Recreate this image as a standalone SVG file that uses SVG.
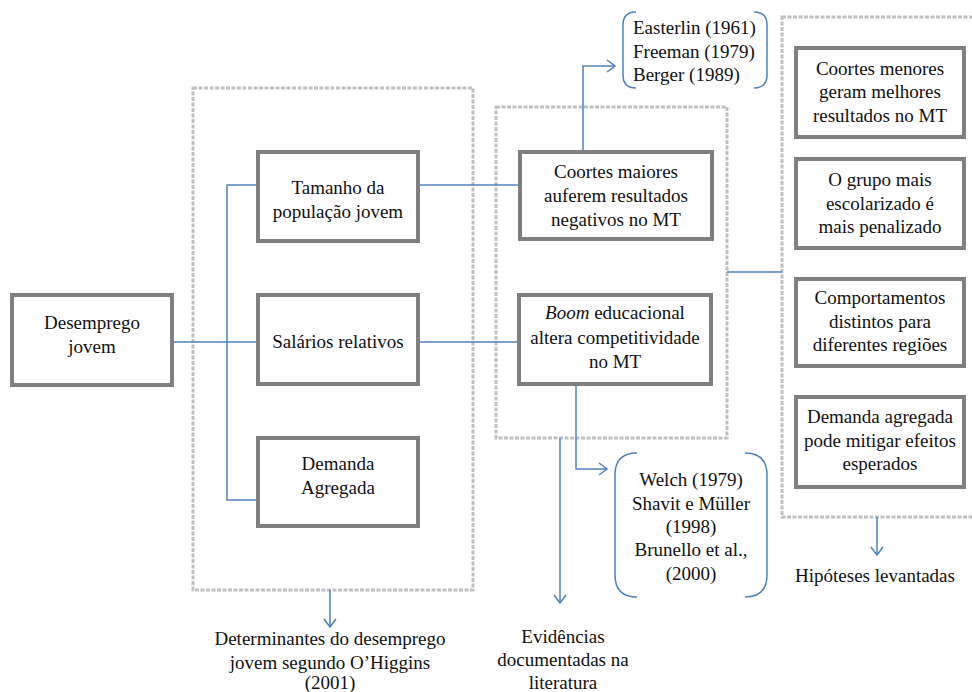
<svg xmlns="http://www.w3.org/2000/svg" width="972" height="692" viewBox="0 0 972 692">
<defs>
<style>
.t{font-family:"Liberation Serif",serif !important;font-size:19px;fill:#111;text-anchor:middle}
.s{text-anchor:start}
.box{fill:#fff;stroke:#7f7f7f;stroke-width:4}
.dot{fill:none;stroke:#c0c0c0;stroke-width:3;stroke-dasharray:4 1.5}
.c{fill:none;stroke:#4f81bd;stroke-width:1.5}
.br{fill:none;stroke:#4f81bd;stroke-width:1.5}
</style>
<marker id="ar" markerWidth="12" markerHeight="14" refX="9" refY="7" orient="auto" markerUnits="userSpaceOnUse">
<path d="M1,1 L9,7 L1,13" fill="none" stroke="#4f81bd" stroke-width="1.5"/>
</marker>
</defs>
<rect width="972" height="692" fill="#fff"/>

<g id="groups">
<rect id="grp-determinantes" class="dot" x="193" y="88" width="280" height="502"/>
<rect id="grp-evidencias" class="dot" x="496" y="107" width="231" height="331"/>
<rect id="grp-hipoteses" class="dot" x="782" y="17" width="200" height="500"/>
</g>

<g id="connectors">
<path class="c" d="M172,342 H258"/>
<path class="c" d="M258,185 H227 V500 H258"/>
<path class="c" d="M418,185 H520"/>
<path class="c" d="M418,342 H519"/>
<path class="c" d="M583,152 V66 H615" marker-end="url(#ar)"/>
<path class="c" d="M576,384 V469 H607" marker-end="url(#ar)"/>
<path class="c" d="M560,438 V603" marker-end="url(#ar)"/>
<path class="c" d="M727,272 H782"/>
<path class="c" d="M330,590 V627" marker-end="url(#ar)"/>
<path class="c" d="M877,517 V555" marker-end="url(#ar)"/>
</g>

<g id="n-desemprego">
<rect class="box" x="12" y="295" width="160" height="90"/>
<text class="t" style="font-family:'Liberation Serif',serif" x="92" y="329">Desemprego</text>
<text class="t" style="font-family:'Liberation Serif',serif" x="92" y="353">jovem</text>
</g>

<g id="n-tamanho">
<rect class="box" x="258" y="152" width="160" height="89"/>
<text class="t" style="font-family:'Liberation Serif',serif" x="338" y="194">Tamanho da</text>
<text class="t" style="font-family:'Liberation Serif',serif" x="338" y="218">população jovem</text>
</g>

<g id="n-salarios">
<rect class="box" x="258" y="295" width="160" height="89"/>
<text class="t" style="font-family:'Liberation Serif',serif" x="338" y="348">Salários relativos</text>
</g>

<g id="n-demanda">
<rect class="box" x="258" y="438" width="160" height="88"/>
<text class="t" style="font-family:'Liberation Serif',serif" x="338" y="470">Demanda</text>
<text class="t" style="font-family:'Liberation Serif',serif" x="338" y="494">Agregada</text>
</g>

<g id="n-coortes-maiores">
<rect class="box" x="520" y="152" width="192" height="87"/>
<text class="t" style="font-family:'Liberation Serif',serif" x="616" y="178">Coortes maiores</text>
<text class="t" style="font-family:'Liberation Serif',serif" x="616" y="202">auferem resultados</text>
<text class="t" style="font-family:'Liberation Serif',serif" x="616" y="226">negativos no MT</text>
</g>

<g id="n-boom">
<rect class="box" x="519" y="295" width="192" height="89"/>
<text class="t" style="font-family:'Liberation Serif',serif" x="615" y="319"><tspan font-style="italic">Boom</tspan> educacional</text>
<text class="t" style="font-family:'Liberation Serif',serif" x="615" y="344">altera competitividade</text>
<text class="t" style="font-family:'Liberation Serif',serif" x="615" y="368">no MT</text>
</g>

<g id="n-refs1">
<path class="br" d="M636,12 Q623,12 623,25 V75 Q623,88 636,88"/>
<path class="br" d="M754,12 Q767,12 767,25 V75 Q767,88 754,88"/>
<text class="t s" style="font-family:'Liberation Serif',serif;text-anchor:start" x="633" y="34">Easterlin (1961)</text>
<text class="t s" style="font-family:'Liberation Serif',serif;text-anchor:start" x="633" y="58">Freeman (1979)</text>
<text class="t s" style="font-family:'Liberation Serif',serif;text-anchor:start" x="633" y="81">Berger (1989)</text>
</g>

<g id="n-refs2">
<path class="br" d="M637,453 Q615,453 615,475 V575 Q615,597 637,597"/>
<path class="br" d="M745,453 Q767,453 767,475 V575 Q767,597 745,597"/>
<text class="t" style="font-family:'Liberation Serif',serif" x="691" y="486">Welch (1979)</text>
<text class="t" style="font-family:'Liberation Serif',serif" x="691" y="510">Shavit e Müller</text>
<text class="t" style="font-family:'Liberation Serif',serif" x="691" y="533">(1998)</text>
<text class="t" style="font-family:'Liberation Serif',serif" x="691" y="556">Brunello et al.,</text>
<text class="t" style="font-family:'Liberation Serif',serif" x="691" y="580">(2000)</text>
</g>

<g id="n-h1">
<rect class="box" x="796" y="48" width="168" height="89"/>
<text class="t" style="font-family:'Liberation Serif',serif" x="880" y="75">Coortes menores</text>
<text class="t" style="font-family:'Liberation Serif',serif" x="880" y="98">geram melhores</text>
<text class="t" style="font-family:'Liberation Serif',serif" x="880" y="122">resultados no MT</text>
</g>

<g id="n-h2">
<rect class="box" x="796" y="159" width="168" height="89"/>
<text class="t" style="font-family:'Liberation Serif',serif" x="880" y="186">O grupo mais</text>
<text class="t" style="font-family:'Liberation Serif',serif" x="880" y="210">escolarizado é</text>
<text class="t" style="font-family:'Liberation Serif',serif" x="880" y="233">mais penalizado</text>
</g>

<g id="n-h3">
<rect class="box" x="796" y="279" width="168" height="87"/>
<text class="t" style="font-family:'Liberation Serif',serif" x="880" y="304">Comportamentos</text>
<text class="t" style="font-family:'Liberation Serif',serif" x="880" y="328">distintos para</text>
<text class="t" style="font-family:'Liberation Serif',serif" x="880" y="351">diferentes regiões</text>
</g>

<g id="n-h4">
<rect class="box" x="796" y="397" width="168" height="90"/>
<text class="t" style="font-family:'Liberation Serif',serif" x="880" y="423">Demanda agregada</text>
<text class="t" style="font-family:'Liberation Serif',serif" x="880" y="447">pode mitigar efeitos</text>
<text class="t" style="font-family:'Liberation Serif',serif" x="880" y="470">esperados</text>
</g>

<g id="labels">
<text class="t" style="font-family:'Liberation Serif',serif" x="330" y="645">Determinantes do desemprego</text>
<text class="t" style="font-family:'Liberation Serif',serif" x="330" y="669">jovem segundo O’Higgins</text>
<text class="t" style="font-family:'Liberation Serif',serif" x="330" y="689">(2001)</text>
<text class="t" style="font-family:'Liberation Serif',serif" x="563" y="643">Evidências</text>
<text class="t" style="font-family:'Liberation Serif',serif" x="563" y="666">documentadas na</text>
<text class="t" style="font-family:'Liberation Serif',serif" x="563" y="689">literatura</text>
<text class="t" style="font-family:'Liberation Serif',serif" x="875" y="582">Hipóteses levantadas</text>
</g>
</svg>
